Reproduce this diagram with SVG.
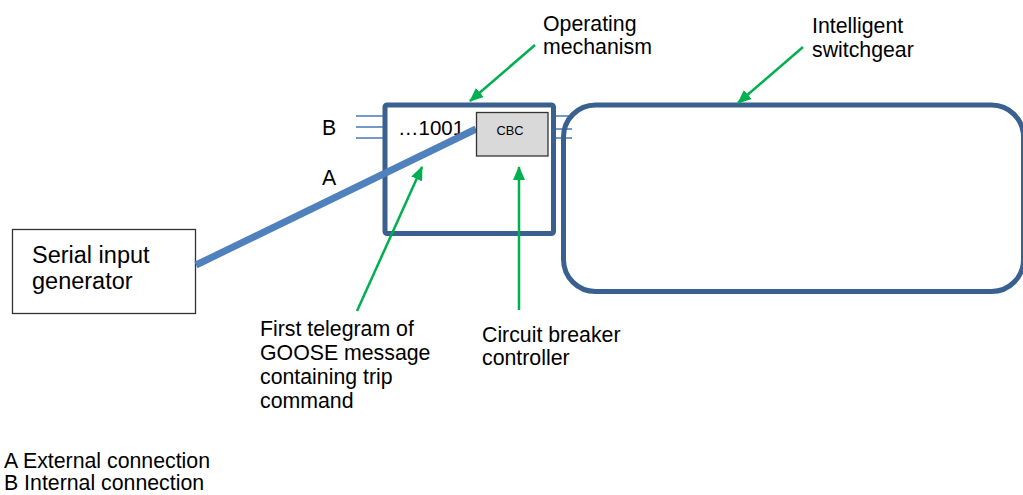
<svg xmlns="http://www.w3.org/2000/svg" width="1023" height="495" viewBox="0 0 1023 495">
<style>
text{font-family:"Liberation Sans",Arial,sans-serif;fill:#000;}
.lbl{font-size:21.3px;}
.frame{fill:none;stroke:#3A6090;stroke-width:5;}
.bline{stroke:#4F81BD;stroke-width:1.6;fill:none;}
.green{stroke:#00B050;stroke-width:2.5;fill:none;marker-end:url(#ga);}
</style>
<defs>
<marker id="ga" markerUnits="userSpaceOnUse" markerWidth="14" markerHeight="12" refX="13" refY="6" orient="auto">
<path d="M0,0 L14,6 L0,12 z" fill="#00B050"/>
</marker>
</defs>
<rect width="1023" height="495" fill="#fff"/>
<g id="connectors">
<line class="bline" x1="356" y1="116" x2="385" y2="116"/>
<line class="bline" x1="356" y1="127" x2="385" y2="127"/>
<line class="bline" x1="356" y1="138" x2="385" y2="138"/>
<line class="bline" x1="553" y1="116" x2="572" y2="116"/>
<line class="bline" x1="553" y1="129" x2="572" y2="129"/>
<line class="bline" x1="553" y1="138" x2="572" y2="138"/>
</g>
<g id="intelligent-switchgear">
<rect class="frame" x="563.5" y="105" width="460" height="186.5" rx="32" ry="32"/>
<text class="lbl" x="812" y="33">Intelligent</text>
<text class="lbl" x="812" y="57">switchgear</text>
</g>
<g id="operating-mechanism">
<rect class="frame" x="385" y="105" width="168.5" height="128.5" rx="2"/>
<text class="lbl" x="398" y="135" style="font-size:20.5px">…1001</text>
<text class="lbl" x="543" y="31">Operating</text>
<text class="lbl" x="543" y="54">mechanism</text>
</g>
<g id="serial-input-generator">
<rect x="12.5" y="229.5" width="183" height="84" fill="#fff" stroke="#333" stroke-width="1.3"/>
<text class="lbl" x="32" y="263" style="font-size:23.5px">Serial input</text>
<text class="lbl" x="32" y="289" style="font-size:23.5px">generator</text>
</g>
<g id="link-a">
<line x1="196" y1="265" x2="476" y2="129" stroke="#4F81BD" stroke-width="7"/>
</g>
<g id="cbc">
<rect x="476.5" y="112.5" width="71.5" height="43.5" fill="#D9D9D9" stroke="#333" stroke-width="1.3"/>
<text x="510" y="135" font-size="12.8" text-anchor="middle">CBC</text>
</g>
<g id="labels-ab">
<text class="lbl" x="322" y="135">B</text>
<text class="lbl" x="322" y="185">A</text>
</g>
<g id="annotations">
<line class="green" x1="535" y1="45" x2="470" y2="101"/>
<line class="green" x1="803" y1="47" x2="738" y2="103"/>
<line class="green" x1="357" y1="311" x2="422" y2="167"/>
<line class="green" x1="519" y1="310" x2="519" y2="167"/>
</g>
<g id="telegram-label">
<text class="lbl" x="260" y="336">First telegram of</text>
<text class="lbl" x="260" y="360">GOOSE message</text>
<text class="lbl" x="260" y="384">containing trip</text>
<text class="lbl" x="260" y="408">command</text>
</g>
<g id="cbc-label">
<text class="lbl" x="482" y="342">Circuit breaker</text>
<text class="lbl" x="482" y="365">controller</text>
</g>
<g id="legend">
<text class="lbl" x="4" y="468">A External connection</text>
<text class="lbl" x="4" y="490">B Internal connection</text>
</g>
</svg>
